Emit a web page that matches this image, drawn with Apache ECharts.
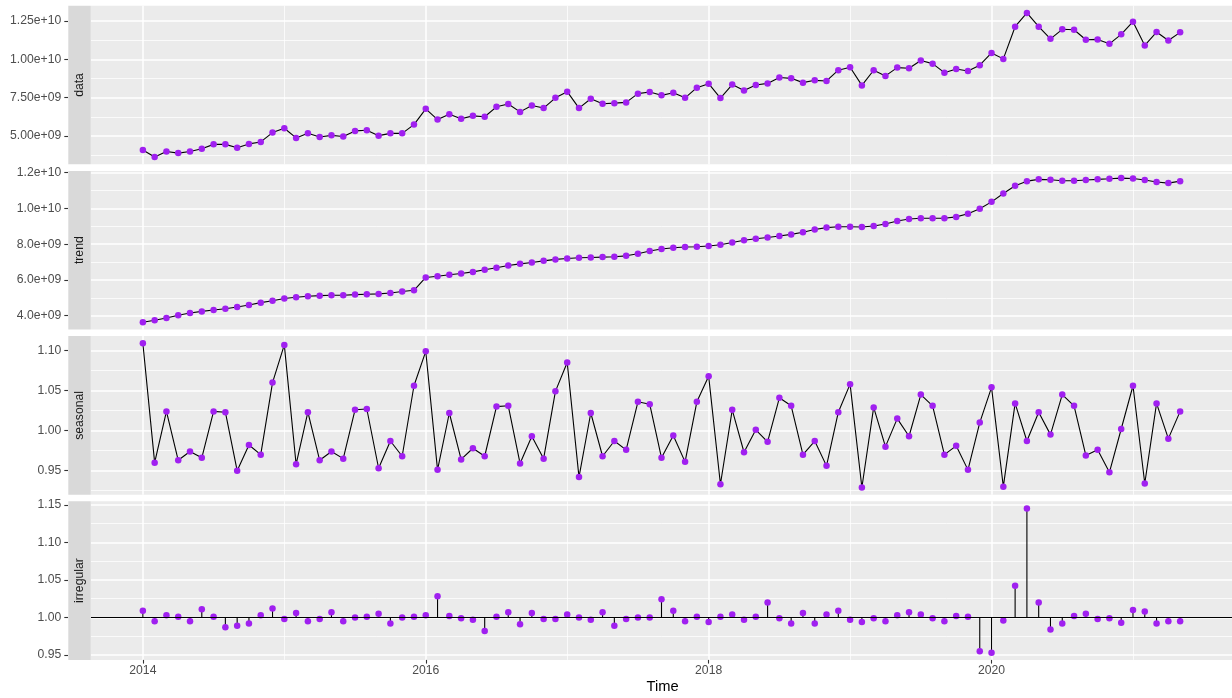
<!DOCTYPE html>
<html><head><meta charset="utf-8">
<script src="https://cdn.jsdelivr.net/npm/echarts@6/dist/echarts.min.js"></script>
<style>html,body{margin:0;padding:0;background:#fff}#c{width:1232px;height:698px}</style>
</head><body><div id="c"></div>
<script>
// ---- time base (monthly series, 2014-01 .. 2021-05) ----
const startYear = 2014;
const startMonth = 1;

// ---- series values ----
const dataVals = [
  4.08e9,3.62e9,3.99e9,3.88e9,3.98e9,4.17e9,4.45e9,4.45e9,4.23e9,4.48e9,4.61e9,5.22e9,
  5.50e9,4.87e9,5.17e9,4.93e9,5.04e9,4.96e9,5.33e9,5.37e9,5.02e9,5.17e9,5.17e9,5.74e9,
  6.77e9,6.07e9,6.42e9,6.12e9,6.31e9,6.25e9,6.90e9,7.08e9,6.57e9,6.99e9,6.82e9,7.49e9,
  7.89e9,6.82e9,7.43e9,7.10e9,7.14e9,7.19e9,7.76e9,7.87e9,7.65e9,7.82e9,7.49e9,8.15e9,
  8.41e9,7.47e9,8.35e9,7.97e9,8.32e9,8.43e9,8.81e9,8.76e9,8.48e9,8.63e9,8.59e9,9.29e9,
  9.48e9,8.30e9,9.29e9,8.92e9,9.46e9,9.42e9,9.92e9,9.72e9,9.13e9,9.37e9,9.24e9,9.62e9,
  10.42e9,10.03e9,12.13e9,13.03e9,12.13e9,11.34e9,11.96e9,11.93e9,11.28e9,11.30e9,11.01e9,11.63e9,
  12.46e9,10.91e9,11.78e9,11.23e9,11.76e9
];
const trendVals = [
  3.63e9,3.74e9,3.87e9,4.02e9,4.15e9,4.24e9,4.32e9,4.39e9,4.49e9,4.60e9,4.73e9,4.84e9,
  4.96e9,5.03e9,5.09e9,5.12e9,5.14e9,5.14e9,5.18e9,5.20e9,5.22e9,5.27e9,5.35e9,5.42e9,
  6.14e9,6.21e9,6.29e9,6.36e9,6.45e9,6.57e9,6.68e9,6.81e9,6.90e9,6.98e9,7.07e9,7.15e9,
  7.20e9,7.24e9,7.26e9,7.28e9,7.30e9,7.35e9,7.47e9,7.62e9,7.73e9,7.80e9,7.84e9,7.86e9,
  7.90e9,7.97e9,8.10e9,8.22e9,8.31e9,8.38e9,8.46e9,8.55e9,8.67e9,8.82e9,8.93e9,8.98e9,
  8.98e9,8.96e9,9.02e9,9.13e9,9.30e9,9.41e9,9.45e9,9.45e9,9.45e9,9.53e9,9.70e9,9.98e9,
  10.37e9,10.84e9,11.27e9,11.53e9,11.63e9,11.61e9,11.55e9,11.55e9,11.59e9,11.63e9,11.66e9,11.70e9,
  11.68e9,11.59e9,11.48e9,11.42e9,11.53e9
];
const seasonalVals = [
  1.109,0.960,1.024,0.963,0.974,0.966,1.024,1.023,0.950,0.982,0.970,1.060,
  1.107,0.958,1.023,0.963,0.974,0.965,1.026,1.027,0.953,0.987,0.968,1.056,
  1.099,0.951,1.022,0.964,0.978,0.968,1.030,1.031,0.959,0.993,0.965,1.049,
  1.085,0.942,1.022,0.968,0.987,0.976,1.036,1.033,0.966,0.994,0.961,1.036,
  1.068,0.933,1.026,0.973,1.001,0.986,1.041,1.031,0.970,0.987,0.956,1.023,
  1.058,0.929,1.029,0.980,1.015,0.993,1.045,1.031,0.970,0.981,0.951,1.010,
  1.054,0.930,1.034,0.987,1.023,0.995,1.045,1.031,0.969,0.976,0.948,1.002,
  1.056,0.934,1.034,0.990,1.024
];
const irregularVals = [
  1.009,0.995,1.003,1.001,0.995,1.011,1.001,0.987,0.989,0.992,1.003,1.012,
  0.998,1.006,0.995,0.998,1.007,0.995,1.000,1.001,1.005,0.992,1.000,1.001,
  1.003,1.028,1.002,0.999,0.997,0.982,1.001,1.007,0.991,1.006,0.998,0.998,
  1.004,1.000,0.997,1.007,0.989,0.998,1.000,1.000,1.024,1.009,0.995,1.001,
  0.994,1.001,1.004,0.997,1.001,1.020,0.999,0.992,1.006,0.992,1.004,1.009,
  0.997,0.994,0.999,0.995,1.003,1.007,1.004,0.999,0.995,1.002,1.001,0.955,
  0.953,0.996,1.042,1.145,1.020,0.984,0.992,1.002,1.005,0.998,0.999,0.993,
  1.010,1.008,0.992,0.995,0.995
];
const irregularBase = 1;

// ---- panels & ticks ----
const panelNames = ['data','trend','seasonal','irregular'];
const yMajor = [
  [5e9,7.5e9,1e10,1.25e10],
  [4e9,6e9,8e9,1e10,1.2e10],
  [0.95,1.00,1.05,1.10],
  [0.95,1.00,1.05,1.10,1.15]
];
const yMajorLabels = [
  ['5.00e+09','7.50e+09','1.00e+10','1.25e+10'],
  ['4.0e+09','6.0e+09','8.0e+09','1.0e+10','1.2e+10'],
  ['0.95','1.00','1.05','1.10'],
  ['0.95','1.00','1.05','1.10','1.15']
];
const yMinor = [
  [3.75e9,6.25e9,8.75e9,1.125e10],
  [5e9,7e9,9e9,1.1e10],
  [0.925,0.975,1.025,1.075],
  [0.975,1.025,1.075,1.125]
];
const xMajor = [2014,2016,2018,2020];
const xMajorLabels = ['2014','2016','2018','2020'];
const xMinor = [2015,2017,2019,2021];
const xTitle = 'Time';

// ---- build ----
const times = dataVals.map((_, i) => startYear + (startMonth - 1 + i) / 12);
const allVals = [dataVals, trendVals, seasonalVals, irregularVals];
function expandRange(arr) {
  const mn = Math.min(...arr), mx = Math.max(...arr), r = mx - mn;
  return [mn - 0.05 * r, mx + 0.05 * r];
}
const xr = expandRange(times);

const FONT = '"Liberation Sans", Arial, Helvetica, sans-serif';
const PURPLE = '#A020F0';
const TICK_FS = 12.2;
const GRID_LEFT = 91, GRID_W = 1143, TOP0 = 5.7, STEP = 165.2, PH = 158.6;
const tops = panelNames.map((_, k) => TOP0 + k * STEP);

const grid = [], xAxis = [], yAxis = [], series = [], graphic = [];
panelNames.forEach((name, k) => {
  grid.push({ left: GRID_LEFT, top: tops[k], width: GRID_W, height: PH, show: true,
    backgroundColor: '#EBEBEB', borderWidth: 0, containLabel: false });
  const last = k === panelNames.length - 1;
  xAxis.push({ type: 'value', gridIndex: k, min: xr[0], max: xr[1],
    axisLine: { show: false },
    axisTick: { show: true, customValues: xMajor, length: 3.7,
      lineStyle: { color: last ? '#333333' : 'rgba(0,0,0,0)', width: 1.1 } },
    axisLabel: { show: last, customValues: xMajor, margin: 5, color: '#4D4D4D',
      fontSize: TICK_FS, fontFamily: FONT,
      formatter: v => { const i = xMajor.indexOf(v); return i >= 0 ? xMajorLabels[i] : ''; } },
    splitLine: { show: true, lineStyle: { color: '#FFFFFF', width: 1.5 } },
    minorTick: { show: false }, minorSplitLine: { show: false } });
  xAxis.push({ type: 'value', gridIndex: k, min: xr[0], max: xr[1],
    axisLine: { show: false },
    axisTick: { show: true, customValues: xMinor, length: 0, lineStyle: { color: 'rgba(0,0,0,0)' } },
    axisLabel: { show: false, customValues: xMinor },
    splitLine: { show: true, lineStyle: { color: '#FFFFFF', width: 0.75 } } });
  const yr = expandRange(allVals[k]);
  yAxis.push({ type: 'value', gridIndex: k, min: yr[0], max: yr[1], offset: 23,
    axisLine: { show: false },
    axisTick: { show: true, customValues: yMajor[k], length: 3.7,
      lineStyle: { color: '#333333', width: 1.1 } },
    axisLabel: { show: true, customValues: yMajor[k], margin: 6.8, color: '#4D4D4D',
      fontSize: TICK_FS, fontFamily: FONT,
      formatter: v => { const i = yMajor[k].findIndex(t => Math.abs(t - v) < Math.abs(t) * 1e-9 + 1e-12); return i >= 0 ? yMajorLabels[k][i] : ''; } },
    splitLine: { show: true, lineStyle: { color: '#FFFFFF', width: 1.5 } } });
  yAxis.push({ type: 'value', gridIndex: k, min: yr[0], max: yr[1],
    axisLine: { show: false },
    axisTick: { show: true, customValues: yMinor[k], length: 0, lineStyle: { color: 'rgba(0,0,0,0)' } },
    axisLabel: { show: false, customValues: yMinor[k] },
    splitLine: { show: true, lineStyle: { color: '#FFFFFF', width: 0.75 } } });

  const pts = times.map((t, i) => [t, allVals[k][i]]);
  if (!last) {
    series.push({ type: 'line', xAxisIndex: 2 * k, yAxisIndex: 2 * k, data: pts,
      symbol: 'circle', symbolSize: 6.5, showSymbol: true, showAllSymbol: true,
      itemStyle: { color: PURPLE, borderWidth: 0 },
      lineStyle: { color: '#000000', width: 1.1 }, z: 3, silent: true });
  } else {
    series.push({ type: 'custom', xAxisIndex: 2 * k, yAxisIndex: 2 * k, data: pts, z: 2, silent: true,
      renderItem: (params, api) => {
        const p0 = api.coord([api.value(0), irregularBase]);
        const p1 = api.coord([api.value(0), api.value(1)]);
        return { type: 'line', shape: { x1: p0[0], y1: p0[1], x2: p1[0], y2: p1[1] },
          style: { stroke: '#000000', lineWidth: 1.1 } };
      },
      markLine: { silent: true, symbol: ['none', 'none'], label: { show: false },
        lineStyle: { color: '#000000', width: 1.1, type: 'solid' },
        data: [{ yAxis: irregularBase }] }
    });
    series.push({ type: 'scatter', xAxisIndex: 2 * k, yAxisIndex: 2 * k, data: pts,
      symbol: 'circle', symbolSize: 6.5, itemStyle: { color: PURPLE, opacity: 1 }, z: 4, silent: true });
  }
  graphic.push({ type: 'rect', z: 10, shape: { x: 68.3, y: tops[k], width: 22.5, height: PH },
    style: { fill: '#D9D9D9' } });
  graphic.push({ type: 'text', z: 11, x: 79.6, y: tops[k] + PH / 2, rotation: Math.PI / 2,
    style: { text: name, fill: '#1A1A1A', font: TICK_FS + 'px ' + FONT, align: 'center', verticalAlign: 'middle' } });
});
graphic.push({ type: 'text', z: 11, x: GRID_LEFT + GRID_W / 2, y: 687,
  style: { text: xTitle, fill: '#000000', font: '14.7px ' + FONT, align: 'center', verticalAlign: 'middle' } });

const chart = echarts.init(document.getElementById('c'), null, { renderer: 'canvas' });
chart.setOption({ animation: false, backgroundColor: '#FFFFFF', grid, xAxis, yAxis, series, graphic });
</script></body></html>
